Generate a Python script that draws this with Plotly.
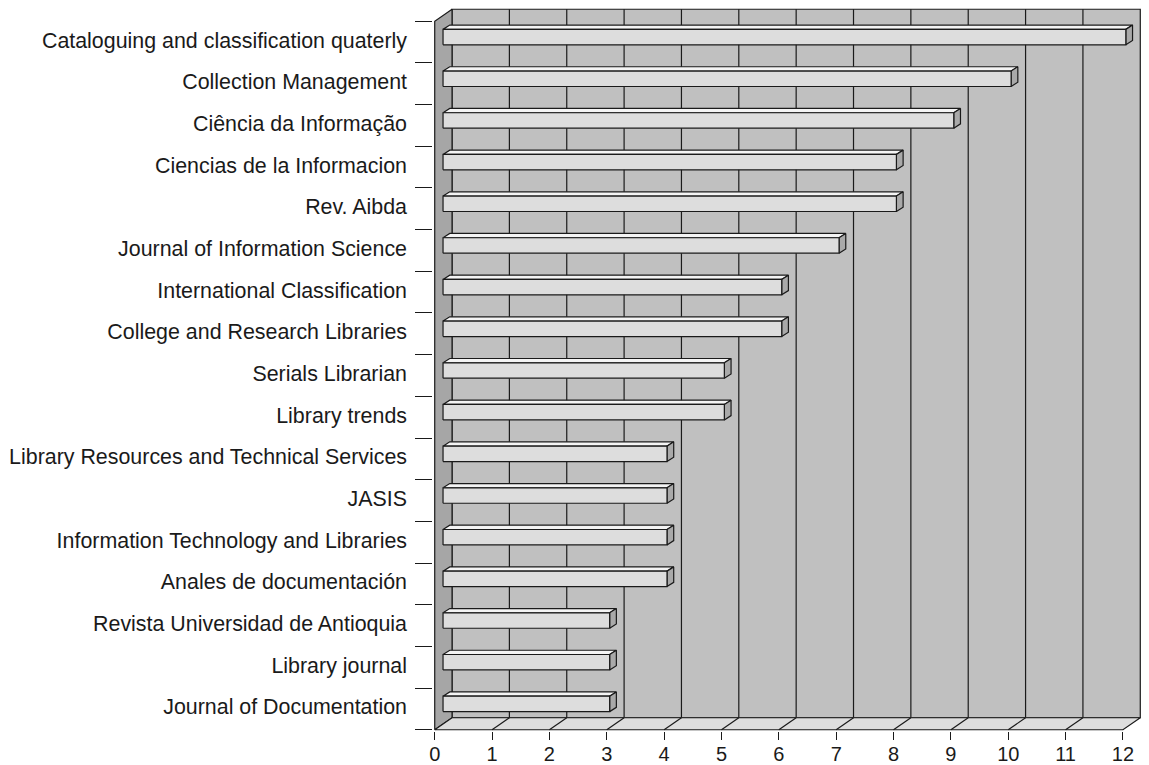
import plotly.graph_objects as go

# ---- data (bottom to top) ----
journals = [
    "Journal of Documentation",
    "Library journal",
    "Revista Universidad de Antioquia",
    "Anales de documentación",
    "Information Technology and Libraries",
    "JASIS",
    "Library Resources and Technical Services",
    "Library trends",
    "Serials Librarian",
    "College and Research Libraries",
    "International Classification",
    "Journal of Information Science",
    "Rev. Aibda",
    "Ciencias de la Informacion",
    "Ciência da Informação",
    "Collection Management",
    "Cataloguing and classification quaterly",
]
counts = [3, 3, 3, 4, 4, 4, 4, 5, 5, 6, 6, 7, 8, 8, 9, 10, 12]
x_ticks = list(range(0, 13))

# ---- 3D styling parameters (in axis units) ----
XMAX = 12
NCAT = len(journals)
DX, DY = 0.302, 0.288          # wall depth
BX0, BXE = 0.145, 0.05         # bar start / end offsets
OY, HH = 0.12, 0.185           # bar vertical offset, half height
BDX, BDY = 0.117, 0.103        # bar depth

LINE = "#1a1a1a"
FONT = "Liberation Sans, Arial, sans-serif"

fig = go.Figure()

def poly(xs, ys, fill, width=1.2, color=LINE):
    fig.add_trace(go.Scatter(x=xs, y=ys, mode="lines", fill="toself",
                             fillcolor=fill, line=dict(color=color, width=width),
                             hoverinfo="skip", showlegend=False))

def lines(xs, ys, width=1.2, color=LINE):
    fig.add_trace(go.Scatter(x=xs, y=ys, mode="lines",
                             line=dict(color=color, width=width),
                             hoverinfo="skip", showlegend=False))

# back wall
poly([DX, XMAX + DX, XMAX + DX, DX, DX],
     [DY, DY, NCAT + DY, NCAT + DY, DY], "#c0c0c0")
# back wall gridlines
gx, gy = [], []
for v in x_ticks[1:-1]:
    gx += [v + DX, v + DX, None]
    gy += [DY, NCAT + DY, None]
lines(gx, gy)
# side wall
poly([0, DX, DX, 0, 0], [0, DY, NCAT + DY, NCAT, 0], "#a6a6a6")
# floor
poly([0, XMAX, XMAX + DX, DX, 0], [0, 0, DY, DY, 0], "#dedede")
fx, fy = [], []
for v in x_ticks[1:-1]:
    fx += [v, v + DX, None]
    fy += [0, DY, None]
lines(fx, fy)

# bars
frx, fry, tpx, tpy, sdx, sdy = [], [], [], [], [], []
for i, v in enumerate(counts):
    c = i + 0.5 + OY
    x0, x1 = BX0, v + BXE
    lo, hi = c - HH, c + HH
    frx += [x0, x1, x1, x0, x0, None]
    fry += [lo, lo, hi, hi, lo, None]
    tpx += [x0, x1, x1 + BDX, x0 + BDX, x0, None]
    tpy += [hi, hi, hi + BDY, hi + BDY, hi, None]
    sdx += [x1, x1 + BDX, x1 + BDX, x1, x1, None]
    sdy += [lo, lo + BDY, hi + BDY, hi, lo, None]
poly(tpx, tpy, "#f4f4f4")
poly(sdx, sdy, "#a9a9a9")
poly(frx, fry, "#dddddd")

fig.update_layout(
    width=1141, height=757,
    margin=dict(l=425, r=7, t=0, b=34),
    paper_bgcolor="white", plot_bgcolor="white",
    font=dict(family=FONT, color="black"),
    xaxis=dict(range=[-0.03, XMAX + DX + 0.03], tickvals=x_ticks,
               ticktext=[str(t) for t in x_ticks], automargin=False,
               ticks="outside", ticklen=8, tickcolor=LINE, tickwidth=1.2,
               ticklabelstandoff=-3,
               showgrid=False, zeroline=False, showline=False,
               tickfont=dict(size=20, family=FONT, color="#1a1a1a")),
    yaxis=dict(range=[-0.03, NCAT + DY + 0.03], automargin=False,
               tickvals=[i + 0.5 for i in range(NCAT)], ticktext=journals,
               ticks="", showgrid=False, zeroline=False, showline=False,
               ticklabelstandoff=25, ticklabelshift=-2,
               tickfont=dict(size=21.4, family=FONT, color="#1a1a1a"),
               minor=dict(tickvals=list(range(NCAT + 1)), ticks="outside",
                          ticklen=17, tickcolor=LINE, tickwidth=1.2,
                          showgrid=False)),
)

fig.write_html("out.html")
